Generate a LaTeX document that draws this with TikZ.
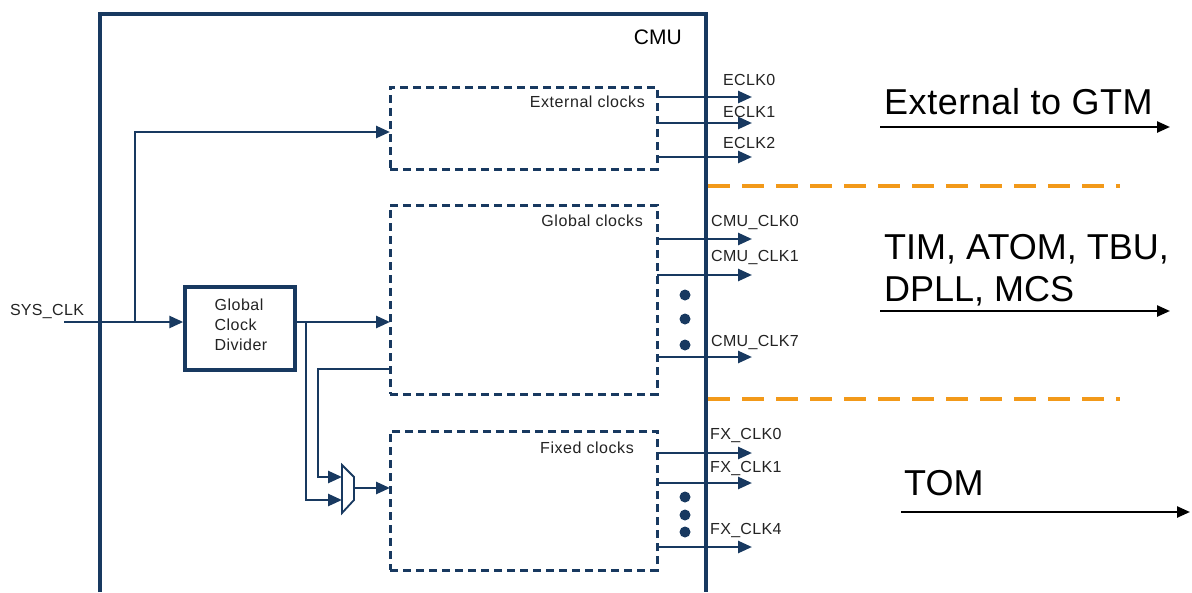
\documentclass[tikz,border=0pt]{standalone}
\usepackage{fontspec}
\setmainfont{Liberation Sans}
\usetikzlibrary{arrows.meta}
\definecolor{navy}{RGB}{24,57,96}
\definecolor{orng}{RGB}{242,153,25}
\definecolor{lbl}{RGB}{35,35,35}
\tikzset{
  conn/.style={draw=navy, line width=2.6pt, -{Triangle[length=14pt,width=12pt]}},
  dbox/.style={draw=navy, line width=3pt, dash pattern=on 8pt off 5pt, minimum width=267pt, inner sep=0pt},
  boxlbl/.style={font=\fontsize{16}{19}\selectfont\addfontfeature{LetterSpace=3.5}, text=lbl, anchor=east, inner sep=0pt},
  clklbl/.style={font=\fontsize{16}{18}\selectfont\addfontfeature{LetterSpace=2}, text=lbl, anchor=west, inner sep=0pt},
  bigtxt/.style={font=\fontsize{36}{36}\selectfont, anchor=west, inner sep=0pt, align=left},
  bigarrow/.style={draw=black, line width=2.4pt, -{Triangle[length=13pt,width=11pt]}},
  sep/.style={draw=orng, line width=4.5pt, dash pattern=on 22pt off 12pt},
  dot/.style={circle, fill=navy, inner sep=0pt, minimum size=11pt},
}
\begin{document}
\begin{tikzpicture}[x=1pt,y=-1pt]
\useasboundingbox[fill=white] (0,0) rectangle (1192,592);

% outer CMU block (open at the bottom)
\draw[navy, line width=3.5pt] (100,592) -- (100,14) -- (706,14) -- (706,592);
\node[font=\fontsize{21}{24}\selectfont, anchor=east, inner sep=0pt] (cmu) at (682,37) {CMU};

% dashed clock boxes
\node[dbox, minimum height=82pt] (ext) at (523.5,128) {};
\node[dbox, minimum height=189pt] (glob) at (523.5,299.5) {};
\node[dbox, minimum height=139pt] (fix) at (523.5,500.5) {};
\node[boxlbl] (extl) at (645,102) {External clocks};
\node[boxlbl] (globl) at (643,221) {Global clocks};
\node[boxlbl] (fixl) at (634,448) {Fixed clocks};

% global clock divider
\node[draw=navy, line width=3.5pt, minimum width=110pt, minimum height=83pt] (gcd) at (240,328.5) {};
\node[align=left, inner sep=0pt, font=\fontsize{16}{20}\selectfont\addfontfeature{LetterSpace=3}, text=lbl] (gcdt) at (241,325) {Global\\Clock\\Divider};

% SYS_CLK input
\node[clklbl, anchor=center] (sysl) at (47,311) {SYS\_CLK};
\coordinate (sysin) at (64,322);
\coordinate (br1) at (135,322);
\coordinate (extin) at (390,132);
\draw[conn] (sysin) -- (sysin -| gcd.west);
\draw[conn] (br1) |- (extin);

% divider output
\coordinate (gout) at (295,322);
\coordinate (globin) at (390,322);
\draw[conn] (gout) -- (globin);

% multiplexer
\coordinate (m1) at (342,465);
\coordinate (m2) at (354,477);
\coordinate (m3) at (354,500);
\coordinate (m4) at (342,513);
\draw[navy, line width=1.8pt, line join=miter] (m1) -- (m2) -- (m3) -- (m4) -- cycle;
\coordinate (muxa) at (342,477);
\coordinate (muxb) at (342,500);
\coordinate (muxout) at (354,488);
\coordinate (fixin) at (390,488);
\coordinate (br2) at (306,322);
\coordinate (gback) at (390,369);
\coordinate (kink) at (318,369);
\draw[conn] (br2) |- (muxb);
\draw[conn] (gback) -- (kink) |- (muxa);
\draw[conn] (muxout) -- (fixin);

% external clock outputs
\foreach \y/\t/\ty/\n in {97/ECLK0/80/e0, 123/ECLK1/112/e1, 157/ECLK2/143/e2}{
  \coordinate (\n a) at (657,\y);
  \coordinate (\n b) at (752,\y);
  \draw[conn] (\n a) -- (\n b);
  \node[clklbl] (\n l) at (723,\ty) {\t};
}
% global clock outputs
\foreach \y/\t/\ty/\n in {239/CMU\_CLK0/222/g0, 275/CMU\_CLK1/257/g1, 357/CMU\_CLK7/342/g7}{
  \coordinate (\n a) at (657,\y);
  \coordinate (\n b) at (752,\y);
  \draw[conn] (\n a) -- (\n b);
  \node[clklbl] (\n l) at (711,\ty) {\t};
}
\node[dot] (gd1) at (685,295) {};
\node[dot] (gd2) at (685,319) {};
\node[dot] (gd3) at (685,345) {};
% fixed clock outputs
\foreach \y/\t/\ty/\n in {453/FX\_CLK0/435/f0, 483/FX\_CLK1/468/f1, 547/FX\_CLK4/530/f4}{
  \coordinate (\n a) at (657,\y);
  \coordinate (\n b) at (752,\y);
  \draw[conn] (\n a) -- (\n b);
  \node[clklbl] (\n l) at (710,\ty) {\t};
}
\node[dot] (fd1) at (685,497) {};
\node[dot] (fd2) at (685,515) {};
\node[dot] (fd3) at (685,532) {};

% orange separators
\coordinate (s1a) at (708,186);
\coordinate (s1b) at (1120,186);
\coordinate (s2a) at (708,399);
\coordinate (s2b) at (1120,399);
\draw[sep] (s1a) -- (s1b);
\draw[sep] (s2a) -- (s2b);

% destinations
\node[bigtxt, font=\fontsize{36}{36}\selectfont\addfontfeature{LetterSpace=1.5}] (dext) at (884,102) {External to GTM};
\coordinate (a1a) at (880,127);
\coordinate (a1b) at (1170,127);
\draw[bigarrow] (a1a) -- (a1b);

\node[bigtxt, anchor=north west, font=\fontsize{36}{42}\selectfont] (dglob) at (884,234) {TIM, ATOM, TBU,\\DPLL, MCS};
\coordinate (a2a) at (880,311);
\coordinate (a2b) at (1170,311);
\draw[bigarrow] (a2a) -- (a2b);

\node[bigtxt] (dtom) at (904,483) {TOM};
\coordinate (a3a) at (901,512);
\coordinate (a3b) at (1190,512);
\draw[bigarrow] (a3a) -- (a3b);
\end{tikzpicture}
\end{document}
